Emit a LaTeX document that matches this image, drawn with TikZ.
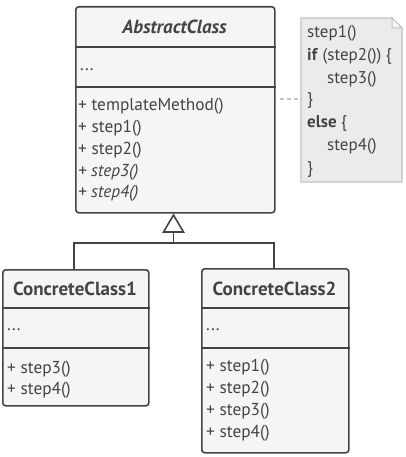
\documentclass[tikz,border=0pt]{standalone}
\usepackage{fontspec}
\setmainfont{PT Sans}
\usetikzlibrary{calc}
\definecolor{ink}{HTML}{444444}
\definecolor{boxfill}{HTML}{F5F5F5}
\definecolor{notefill}{HTML}{EBEBEB}
\definecolor{noteline}{HTML}{C2C2C2}
\tikzset{
  classbox/.style={draw=ink, fill=boxfill, line width=1.6pt, rounded corners=3pt, inner sep=0pt, anchor=north west},
  sepline/.style={draw=ink, line width=1.6pt},
  member/.style={anchor=west, inner sep=0pt, text=ink, font=\fontsize{17.3}{20}\selectfont},
  title/.style={inner sep=0pt, text=ink, font=\fontsize{19}{22}\selectfont\bfseries},
  notetext/.style={anchor=west, inner sep=0pt, text=ink, font=\fontsize{17}{20}\selectfont},
  inherit/.style={draw=ink, line width=1.6pt},
  notelink/.style={draw=noteline, line width=1.4pt, dash pattern=on 4pt off 3pt},
}
\begin{document}
\begin{tikzpicture}[x=1pt,y=-1pt]
\useasboundingbox (0,0) rectangle (405,457);
% AbstractClass
\node[classbox, minimum width=199pt, minimum height=206pt] (abs) at (75,6) {};
\draw[sepline] (abs.west |- 0,47) -- (abs.east |- 0,47);
\draw[sepline] (abs.west |- 0,87) -- (abs.east |- 0,87);
\node[title, font=\fontsize{19}{22}\selectfont\bfseries\itshape] (absT) at (174.5,27) {AbstractClass};
\node[member] (absA) at (80,70) {...};
\node[member] (absM1) at (78,106) {+ templateMethod()};
\node[member] (absM2) at (78,128) {+ step1()};
\node[member] (absM3) at (78,150) {+ step2()};
\node[member] (absM4) at (78,172) {\itshape + step3()};
\node[member] (absM5) at (78,193) {\itshape + step4()};
% Note
\coordinate (nA) at (301,18);
\coordinate (nB) at (392,18);
\coordinate (nC) at (402,28);
\coordinate (nD) at (402,182);
\coordinate (nE) at (301,182);
\draw[draw=noteline, fill=notefill, line width=1.2pt] (nA) -- (nB) -- (nC) -- (nD) -- (nE) -- cycle;
\draw[draw=noteline, fill=white!60!notefill, line width=1.0pt] (nB) -- (392,28) -- (nC) -- cycle;
\node[inner sep=0pt, minimum width=101pt, minimum height=164pt, anchor=north west] (note) at (301,18) {};
\node[notetext] (n1) at (307,33) {step1()};
\node[notetext] (n2) at (307,56) {\textbf{if} (step2()) \{};
\node[notetext] (n3) at (327,79) {step3()};
\node[notetext] (n4) at (307,100) {\}};
\node[notetext] (n5) at (307,123) {\textbf{else} \{};
\node[notetext] (n6) at (327,146) {step4()};
\node[notetext] (n7) at (307,169) {\}};
\coordinate (linkA) at (abs.east |- 0,99);
\draw[notelink] ($(linkA)+(4,0)$) -- (note.west |- linkA);
% ConcreteClass1
\node[classbox, minimum width=146pt, minimum height=136pt] (cc1) at (2,269) {};
\draw[sepline] (cc1.west |- 0,308) -- (cc1.east |- 0,308);
\draw[sepline] (cc1.west |- 0,348) -- (cc1.east |- 0,348);
\node[title] (cc1T) at (75,289) {ConcreteClass1};
\node[member] (cc1A) at (7,330) {...};
\node[member] (cc1M1) at (7,369) {+ step3()};
\node[member] (cc1M2) at (7,390) {+ step4()};
% ConcreteClass2
\node[classbox, minimum width=147pt, minimum height=184pt] (cc2) at (201,268) {};
\draw[sepline] (cc2.west |- 0,308) -- (cc2.east |- 0,308);
\draw[sepline] (cc2.west |- 0,348) -- (cc2.east |- 0,348);
\node[title] (cc2T) at (274.5,289) {ConcreteClass2};
\node[member] (cc2A) at (206,330) {...};
\node[member] (cc2M1) at (206,367) {+ step1()};
\node[member] (cc2M2) at (206,389) {+ step2()};
\node[member] (cc2M3) at (206,411) {+ step3()};
\node[member] (cc2M4) at (206,433) {+ step4()};
% Inheritance
\coordinate (tri) at (173.5,232);
\coordinate (junc) at (173.5,243);
\draw[inherit] (cc1.north -| 74,0) -- (74,243) -- (274,243) -- (cc2.north -| 274,0);
\draw[inherit] (junc) -- (tri);
\draw[inherit, fill=white, line join=miter] (163.5,232) -- (173.5,215) -- (183.5,232) -- cycle;
\end{tikzpicture}
\end{document}
